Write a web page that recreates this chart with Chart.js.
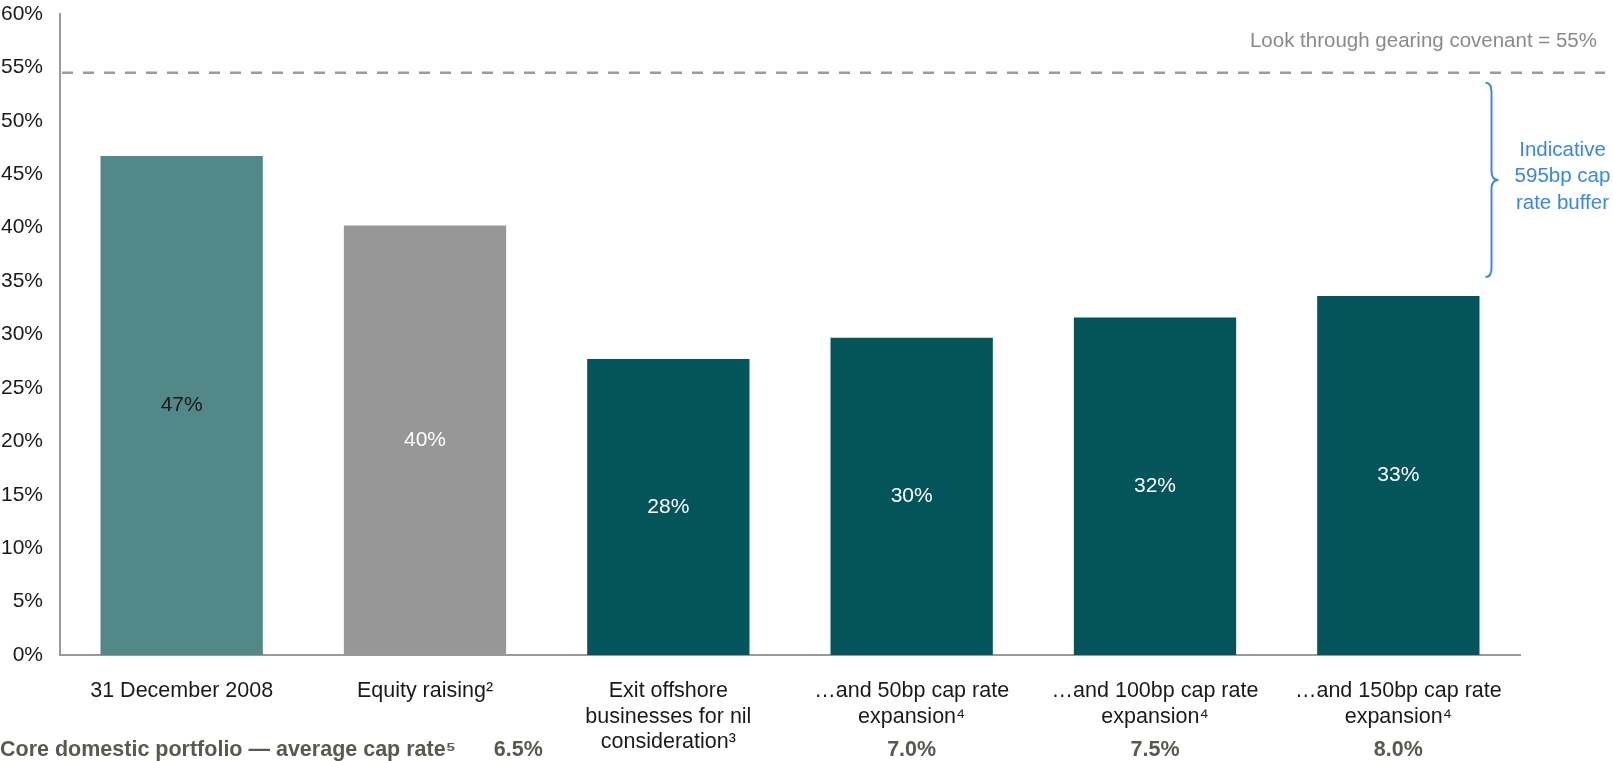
<!DOCTYPE html>
<html lang="en">
<head>
    <meta charset="UTF-8">
    <title>Look through gearing</title>
    <script src="https://cdn.jsdelivr.net/npm/chart.js"></script>
    <style>
        html, body { margin: 0; padding: 0; background: #fff; }
        #wrap { width: 1613px; height: 761px; position: relative; }
    </style>
</head>
<body>
    <div id="wrap"><canvas id="gearingChart"></canvas></div>

    <script>
        const categories = [
            ['31 December 2008'],
            ['Equity raising²'],
            ['Exit offshore', 'businesses for nil', 'consideration³'],
            ['…and 50bp cap rate', 'expansion⁴'],
            ['…and 100bp cap rate', 'expansion⁴'],
            ['…and 150bp cap rate', 'expansion⁴']
        ];
        const gearing = [46.7, 40.2, 27.7, 29.7, 31.6, 33.6];
        const gearingLabels = ['47%', '40%', '28%', '30%', '32%', '33%'];
        const barColors = ['#528888', '#979797', '#03545b', '#03545b', '#03545b', '#03545b'];
        const labelColors = ['#1a1a1a', '#ffffff', '#ffffff', '#ffffff', '#ffffff', '#ffffff'];

        const covenant = 54.5;
        const covenantLabel = 'Look through gearing covenant = 55%';
        const bufferLines = ['Indicative', '595bp cap', 'rate buffer'];
        const capRateCaption = 'Core domestic portfolio — average cap rate⁵';
        const capRates = ['6.5%', '', '', '7.0%', '7.5%', '8.0%'];

        const FONT = "'Liberation Sans', Arial, sans-serif";

        const overlay = {
            id: 'overlay',
            afterDatasetsDraw(chart) {
                const ctx = chart.ctx;
                const meta = chart.getDatasetMeta(0);
                ctx.save();
                ctx.font = '21px ' + FONT;
                ctx.textAlign = 'center';
                ctx.textBaseline = 'middle';
                meta.data.forEach((bar, i) => {
                    ctx.fillStyle = labelColors[i];
                    ctx.fillText(gearingLabels[i], bar.x, (bar.y + bar.base) / 2);
                });
                ctx.restore();
            },
            afterDraw(chart) {
                const ctx = chart.ctx;
                const x = chart.scales.x;
                const y = chart.scales.y;
                const area = chart.chartArea;
                const meta = chart.getDatasetMeta(0);
                ctx.save();

                // covenant line
                const cy = y.getPixelForValue(covenant);
                ctx.strokeStyle = '#9c9c9c';
                ctx.lineWidth = 2.5;
                ctx.setLineDash([11, 10]);
                ctx.beginPath();
                ctx.moveTo(area.left + 2, cy);
                ctx.lineTo(chart.width - 8, cy);
                ctx.stroke();
                ctx.setLineDash([]);

                ctx.font = '20.5px ' + FONT;
                ctx.fillStyle = '#8a8a8a';
                ctx.textAlign = 'right';
                ctx.textBaseline = 'middle';
                ctx.fillText(covenantLabel, chart.width - 16, cy - 31);

                // brace
                const last = meta.data[meta.data.length - 1];
                const bx = last.x + last.width / 2 + 6;
                const top = cy + 10;
                const bottom = last.y - 19;
                const mid = top + (bottom - top) * 0.5;
                ctx.strokeStyle = '#3a86f0';
                ctx.lineWidth = 2;
                ctx.beginPath();
                ctx.moveTo(bx, top);
                ctx.quadraticCurveTo(bx + 6, top, bx + 6, top + 9);
                ctx.lineTo(bx + 6, mid - 9);
                ctx.quadraticCurveTo(bx + 6, mid, bx + 13, mid);
                ctx.quadraticCurveTo(bx + 6, mid, bx + 6, mid + 9);
                ctx.lineTo(bx + 6, bottom - 9);
                ctx.quadraticCurveTo(bx + 6, bottom, bx, bottom);
                ctx.stroke();

                ctx.fillStyle = '#3a86f0';
                ctx.textAlign = 'center';
                bufferLines.forEach((t, i) => {
                    ctx.fillText(t, bx + 77, mid - 30 + i * 26.5);
                });

                // cap rate row
                const rowY = chart.height - 11;
                ctx.font = 'bold 21.5px ' + FONT;
                ctx.fillStyle = '#595950';
                ctx.textAlign = 'left';
                ctx.fillText(capRateCaption, 0, rowY);
                const capW = ctx.measureText(capRateCaption).width;
                ctx.fillText(capRates[0], capW + 38, rowY);
                ctx.textAlign = 'center';
                capRates.forEach((r, i) => {
                    if (i > 0 && r) ctx.fillText(r, x.getPixelForValue(i), rowY);
                });
                ctx.restore();
            }
        };

        new Chart(document.getElementById('gearingChart').getContext('2d'), {
            type: 'bar',
            data: {
                labels: categories,
                datasets: [{
                    data: gearing,
                    backgroundColor: barColors,
                    categoryPercentage: 1,
                    barPercentage: 0.667
                }]
            },
            options: {
                responsive: true,
                maintainAspectRatio: false,
                animation: false,
                layout: { padding: { top: 14, right: 93, left: 0, bottom: 0 } },
                plugins: {
                    legend: { display: false },
                    tooltip: { enabled: false }
                },
                scales: {
                    x: {
                        grid: { display: false, drawTicks: false },
                        border: { display: true, color: '#9a9a9a', width: 2 },
                        ticks: {
                            color: '#1a1a1a',
                            font: { family: FONT, size: 21.5, lineHeight: 1.17 },
                            padding: 24,
                            maxRotation: 0,
                            autoSkip: false
                        },
                        afterFit(scale) { scale.height = 106; }
                    },
                    y: {
                        min: 0,
                        max: 60,
                        grid: { display: false, drawTicks: false },
                        border: { display: true, color: '#9a9a9a', width: 2 },
                        ticks: {
                            stepSize: 5,
                            color: '#1a1a1a',
                            padding: 17,
                            font: { family: FONT, size: 21 },
                            callback: v => v + '%'
                        },
                        afterFit(scale) {
                            scale.width = 60;
                            scale.paddingTop = 0;
                            scale.paddingBottom = 0;
                        }
                    }
                }
            },
            plugins: [overlay]
        });
    </script>
</body>
</html>
